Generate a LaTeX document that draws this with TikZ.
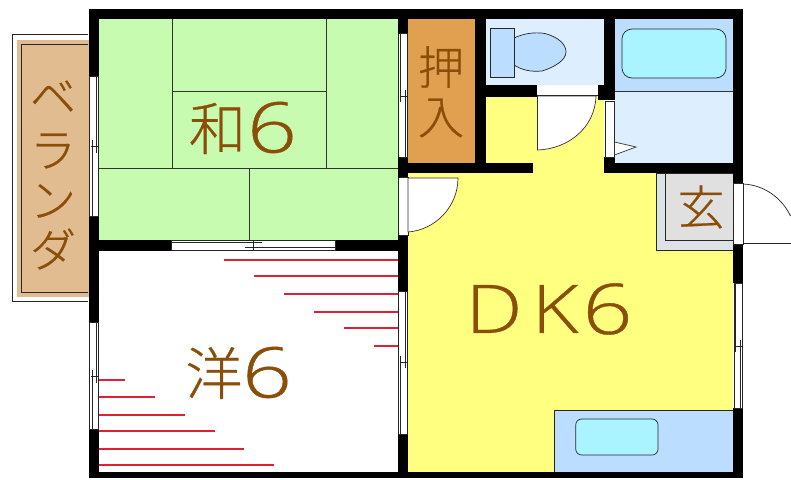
\documentclass[tikz,border=0pt]{standalone}
\usepackage{fontspec}
\newfontfamily\jpf[FakeBold=0.5]{Noto Sans CJK JP Light}
\newfontfamily\latf[FakeBold=0.5]{Open Sans Light}
\definecolor{tatami}{HTML}{C6FBB0}
\definecolor{dkyel}{HTML}{FFFF80}
\definecolor{oshi}{HTML}{E0A050}
\definecolor{veran}{HTML}{E0BC90}
\definecolor{pale}{HTML}{DDEEFF}
\definecolor{midblue}{HTML}{BBDDFF}
\definecolor{aqua}{HTML}{AAF4FF}
\definecolor{brownt}{HTML}{8B4E08}
\definecolor{redl}{HTML}{E02030}
\definecolor{grayl}{HTML}{E0E0E0}
\definecolor{grayo}{HTML}{DDE2E6}
\tikzset{
 wall/.style={fill=black,draw=none},
 thin line/.style={draw=black!85,line width=.7pt},
 grid line/.style={draw=black!80,line width=.8pt},
 doorleaf/.style={draw=black!80,line width=.7pt,fill=white},
 lab/.style={inner sep=0,outer sep=0,text=brownt},
}
\begin{document}
\begin{tikzpicture}[x=1pt,y=-1pt]
\useasboundingbox (0,0) rectangle (791,479);
\fill[white] (0,0) rectangle (791,479);
% veranda
\draw[thin line,fill=white] (88,34.3) -- (12,34.3) -- (12,301.7) -- (88,301.7);
\fill[veran] (17,40) rectangle (88.5,296.7);
\draw[thin line] (88,44) -- (21.5,44) -- (21.5,292) -- (88,292);
% room fills
\fill[tatami] (99,18.5) rectangle (398,240);
\fill[white] (99,250) rectangle (398,472);
\fill[dkyel] (408,173) rectangle (733,472);
\fill[dkyel] (486,96) rectangle (604,173);
\fill[oshi] (408,18.5) rectangle (475,163);
\fill[pale] (486,18.5) rectangle (604,85);
\fill[midblue] (614,18.5) rectangle (733,91);
\fill[pale] (614,91) rectangle (733,163);
\draw[grid line] (614,91) -- (733,91);
% tatami lines
\draw[grid line] (172,18.5) -- (172,168.5) (326.5,18.5) -- (326.5,168.5)
 (172,91) -- (326.5,91) (99,168.5) -- (398,168.5) (249,168.5) -- (249,240);
% red lines
\foreach \yy/\xx in {259/224,275/254,293/284,311/314,327/343.5,345/373.5}
 \fill[redl] (\xx,\yy) rectangle (398,\yy+1.6);
\foreach \yy/\xx in {379/125,396/155,414/184.5,430/214.5,448/244,464/274}
 \fill[redl] (99,\yy) rectangle (\xx,\yy+1.6);
% genkan
\draw[thin line,fill=grayo] (656,173) -- (656,250) -- (733,250) -- (733,173) -- cycle;
\draw[thin line,fill=grayl] (665.5,173) -- (665.5,240.5) -- (733,240.5) -- (733,173) -- cycle;
% cabinet
\draw[thin line,fill=midblue] (554,472) -- (554,410) -- (733,410) -- (733,472) -- cycle;
\draw[thin line,fill=aqua,rounded corners=6pt] (575.7,419) rectangle (658,455);
% tub
\draw[thin line,fill=aqua,rounded corners=10pt] (622,29) rectangle (726,78);
% toilet
\draw[thin line,fill=midblue] (514,38) .. controls (525,33) and (535,32) .. (545,33.5)
 .. controls (558,37) and (566,44) .. (566,52) .. controls (566,60) and (555,67) .. (542,71)
 .. controls (530,72) and (522,70) .. (514,65) -- cycle;
\draw[thin line,fill=midblue] (490.7,28) rectangle (514,77);
% walls
\fill[wall] (88.5,8.5) rectangle (743,18.5);
\fill[wall] (88.5,472) rectangle (743,477.5);
\fill[wall] (88.5,8.5) rectangle (99,76);
\fill[wall] (88.5,216.5) rectangle (99,322);
\fill[wall] (88.5,429) rectangle (99,477.5);
\fill[wall] (733,8.5) rectangle (743,183);
\fill[wall] (733,244) rectangle (743,283);
\fill[wall] (733,408) rectangle (743,477.5);
\fill[wall] (88.5,240) rectangle (171,250.7);
\fill[wall] (335,240) rectangle (408,250.7);
\fill[wall] (397.5,8.5) rectangle (408,33);
\fill[wall] (397.5,157) rectangle (408,177.5);
\fill[wall] (397.5,235) rectangle (408,291);
\fill[wall] (397.5,434) rectangle (408,477.5);
\fill[wall] (398,162.7) rectangle (533,173.3);
\fill[wall] (475,8.5) rectangle (486,173);
\fill[wall] (486,85) rectangle (537,96.5);
\fill[wall] (598,85) rectangle (614,100);
\fill[wall] (604,8.5) rectangle (614.5,100);
\fill[wall] (604,157) rectangle (614.5,173.3);
\fill[wall] (604,162.7) rectangle (743,173.3);
% windows: left upper
\draw[thin line,fill=white] (89.5,76) rectangle (98.5,216.5);
\draw[thin line] (92,140) -- (92,216.5) (96,76) -- (96,153) (91,146.5) -- (98.5,146.5);
% left lower
\draw[thin line,fill=white] (89.5,322) rectangle (98.5,429);
\draw[thin line] (92,370) -- (92,429) (96,322) -- (96,383) (91,376.7) -- (98.5,376.7);
% between rooms, upper
\draw[thin line,fill=white] (398.5,33) rectangle (407.5,157);
\draw[thin line] (400.5,33) -- (400.5,102) (405,90) -- (405,157) (399.5,96) -- (407,96);
% between rooms, lower
\draw[thin line,fill=white] (398.5,291) rectangle (407.5,434);
\draw[thin line] (405,291) -- (405,368) (400.5,356) -- (400.5,434) (399.5,362) -- (407,362);
% right window
\draw[thin line,fill=white] (734,283) rectangle (742.5,408);
\draw[thin line] (735.5,283) -- (735.5,352) (740,340) -- (740,408) (735,346.7) -- (742,346.7);
% horizontal window
\draw[thin line,fill=white] (171,240.7) rectangle (335,250.2);
\draw[thin line] (171,242.5) -- (262,242.5) (245,247.5) -- (335,247.5) (253,240) -- (253,250);
% door openings
\fill[white] (537,86) rectangle (598,95.5);
\draw[thin line] (537,95.5) -- (598,95.5);
\draw[doorleaf] (537.5,96) -- (537.5,150)
 .. controls (568,149) and (595,128) .. (596,96) -- cycle;
\draw[thin line,fill=white] (605,101) rectangle (614,157);
\draw[doorleaf] (614.5,142) -- (636,147) -- (614.5,155) -- cycle;
\draw[thin line,fill=white] (398.5,177.5) rectangle (408,235);
\draw[doorleaf] (408,178) -- (458,178) .. controls (458,207) and (435,230) .. (408,232) -- cycle;
\draw[thin line,fill=white] (733.5,183) rectangle (743,244);
\draw[thin line] (743,243) -- (791,243);
\draw[thin line] (743,184) .. controls (766,185) and (783,200) .. (790.5,216);
% labels
\node[lab,font=\jpf\fontsize{57}{57}\selectfont] (wa) at (217.5,128.5) {和};
\node[lab,font=\latf\fontsize{70}{70}\selectfont,xscale=1.25] (six1) at (272,127.5) {6};
\node[lab,font=\jpf\fontsize{46}{46}\selectfont] (oshi1) at (441,67) {押};
\node[lab,font=\jpf\fontsize{46}{46}\selectfont] (iri) at (441,118) {入};
\node[lab,font=\jpf\fontsize{47}{47}\selectfont] (gen) at (701,207) {玄};
\node[lab,font=\jpf\fontsize{46}{46}\selectfont] (k1) at (53,97) {ベ};
\node[lab,font=\jpf\fontsize{46}{46}\selectfont] (k2) at (53,151) {ラ};
\node[lab,font=\jpf\fontsize{46}{46}\selectfont] (k3) at (53,201) {ン};
\node[lab,font=\jpf\fontsize{46}{46}\selectfont] (k4) at (53,249) {ダ};
\node[lab,font=\jpf\fontsize{57}{57}\selectfont] (you) at (214,373) {洋};
\node[lab,font=\latf\fontsize{70}{70}\selectfont,xscale=1.25] (six2) at (267,372.5) {6};
\node[lab,font=\latf\fontsize{67}{67}\selectfont,xscale=1.2] (dd) at (494,309) {D};
\node[lab,font=\latf\fontsize{67}{67}\selectfont,xscale=1.2] (kk) at (555,309) {K};
\node[lab,font=\latf\fontsize{70}{70}\selectfont,xscale=1.25] (six3) at (607.5,309) {6};
\end{tikzpicture}
\end{document}
